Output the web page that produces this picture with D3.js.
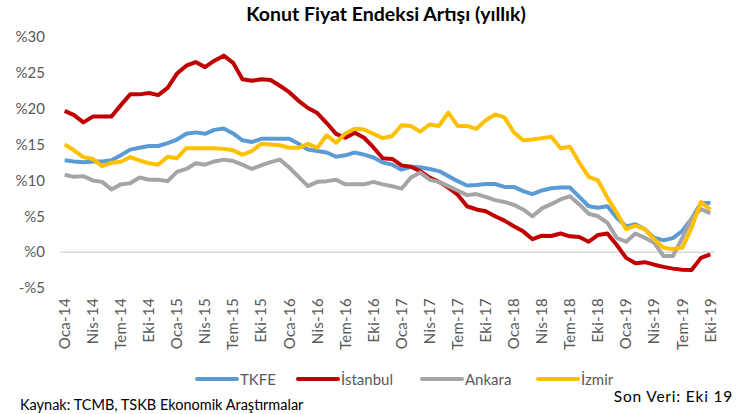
<!DOCTYPE html>
<html>
<head>
<meta charset="utf-8">
<script src="https://cdn.jsdelivr.net/npm/d3@7"></script>
<style>
  body { margin: 0; background: #fff; }
  svg { font-family: Lato, "Open Sans", sans-serif; }
  .tick text { fill: #595959; }
</style>
</head>
<body>
<svg id="chart" width="745" height="414"></svg>
<script>
// Turkish month abbreviations and years of the series (Oca-14 .. Eki-19)
const monthNames = ['Oca', 'Şub', 'Mar', 'Nis', 'May', 'Haz', 'Tem', 'Ağu', 'Eyl', 'Eki', 'Kas', 'Ara'];
const years = [14, 15, 16, 17, 18, 19];
const lastMonth = 'Eki-19';

// Annual house price index growth, %
const tkfe = [12.8, 12.65, 12.55, 12.65, 12.65, 12.8, 13.5, 14.3, 14.55, 14.8, 14.8, 15.2,
  15.7, 16.5, 16.7, 16.5, 17.05, 17.25, 16.55, 15.6, 15.35, 15.8, 15.8, 15.8,
  15.8, 15.1, 14.3, 14.1, 13.9, 13.3, 13.5, 13.9, 13.6, 13.2, 12.5, 12.2,
  11.5, 11.9, 11.85, 11.6, 11.3, 10.6, 9.9, 9.3, 9.35, 9.5, 9.5, 9.1,
  9.1, 8.5, 8.1, 8.6, 8.9, 9.0, 9.0, 7.7, 6.4, 6.2, 6.4, 4.8,
  3.6, 3.9, 3.2, 2.0, 1.65, 1.95, 2.95, 4.65, 6.85, 6.85];
const istanbul = [19.7, 19.1, 18.1, 18.9, 18.9, 18.9, 20.5, 22.0, 22.0, 22.2, 21.9, 22.9,
  24.9, 26.0, 26.5, 25.8, 26.7, 27.4, 26.4, 24.1, 23.9, 24.1, 24.0, 23.2,
  22.3, 21.1, 20.1, 19.4, 18.0, 16.5, 15.95, 16.65, 15.95, 14.6, 13.1, 13.0,
  12.1, 11.9, 11.3, 10.4, 9.8, 9.0, 8.0, 6.4, 5.95, 5.7, 5.0, 4.4,
  3.6, 2.9, 1.8, 2.3, 2.25, 2.6, 2.2, 2.1, 1.45, 2.4, 2.6, 1.0,
  -0.8, -1.55, -1.4, -1.75, -2.05, -2.3, -2.45, -2.5, -0.8, -0.3];
const ankara = [10.8, 10.5, 10.6, 10.0, 9.8, 8.75, 9.45, 9.6, 10.4, 10.1, 10.1, 9.9,
  11.2, 11.6, 12.4, 12.2, 12.65, 12.9, 12.7, 12.2, 11.6, 12.1, 12.55, 12.9,
  11.8, 10.5, 9.2, 9.8, 9.9, 10.1, 9.45, 9.45, 9.45, 9.8, 9.45, 9.2,
  8.85, 10.4, 11.1, 10.1, 9.8, 9.2, 8.6, 7.95, 8.1, 7.7, 7.25, 7.0,
  6.6, 5.95, 5.0, 6.1, 6.7, 7.35, 7.8, 6.65, 5.35, 5.0, 4.1, 2.0,
  1.45, 2.6, 2.0, 1.3, -0.55, -0.55, 2.0, 4.7, 6.0, 5.45];
const izmir = [15.0, 14.2, 13.25, 13.0, 12.0, 12.45, 12.6, 13.25, 12.8, 12.4, 12.2, 13.3,
  13.1, 14.5, 14.5, 14.5, 14.5, 14.4, 14.2, 13.6, 14.1, 15.1, 15.0, 14.9,
  14.55, 14.55, 15.1, 14.55, 16.3, 15.25, 16.55, 17.2, 17.1, 16.5, 15.9, 16.2,
  17.7, 17.6, 16.8, 17.8, 17.6, 19.45, 17.6, 17.6, 17.2, 18.4, 19.2, 18.8,
  16.7, 15.6, 15.7, 15.9, 16.1, 14.5, 14.7, 12.5, 10.5, 10.0, 7.6, 5.5,
  3.2, 3.7, 3.2, 1.8, 0.6, 0.45, 0.6, 3.4, 7.0, 5.95];

const yTicks = [-5, 0, 5, 10, 15, 20, 25, 30];

const seriesNames = ['TKFE', 'İstanbul', 'Ankara', 'İzmir'];
const seriesColors = ['#5B9BD5', '#C00000', '#A5A5A5', '#FFC000'];
const seriesValues = [tkfe, istanbul, ankara, izmir];

// Build month category labels
const months = [];
years.forEach(y => monthNames.forEach(m => months.push(`${m}-${y}`)));
const categories = months.slice(0, months.indexOf(lastMonth) + 1);

const svg = d3.select('#chart');
const margin = {left: 60, right: 30, top: 37, bottom: 126};
const width = 745 - margin.left - margin.right;
const height = 414 - margin.top - margin.bottom;

const chart = svg.append('g')
  .attr('transform', `translate(${margin.left},${margin.top})`);

const xScale = d3.scaleBand()
  .domain(categories)
  .range([0, width]);

const yScale = d3.scaleLinear()
  .domain([-5, 30])
  .range([height, 0]);

const xPos = d => xScale(d) + xScale.bandwidth() / 2;

// Title
svg.append('text')
  .attr('x', 386)
  .attr('y', 21)
  .attr('text-anchor', 'middle')
  .attr('font-size', 19.5)
  .attr('font-weight', 'bold')
  .attr('fill', '#000')
  .text('Konut Fiyat Endeksi Artışı (yıllık)');

// Y axis labels
const yAxis = d3.axisLeft(yScale)
  .tickValues(yTicks)
  .tickSize(0)
  .tickPadding(15)
  .tickFormat(d => d < 0 ? `-%${-d}` : `%${d}`);

chart.append('g')
  .attr('class', 'axis y-axis')
  .call(yAxis)
  .call(g => g.select('.domain').remove())
  .selectAll('text')
  .attr('font-size', 15)
  .attr('font-family', 'Lato, sans-serif');

// zero line
chart.append('line')
  .attr('x1', 0)
  .attr('x2', width)
  .attr('y1', yScale(0))
  .attr('y2', yScale(0))
  .attr('stroke', '#D9D9D9')
  .attr('stroke-width', 1.5);

// X axis labels, every third month
const xAxis = d3.axisBottom(xScale)
  .tickValues(categories.filter((d, i) => i % 3 === 0))
  .tickSize(0);

chart.append('g')
  .attr('class', 'axis x-axis')
  .attr('transform', `translate(0,${height})`)
  .call(xAxis)
  .call(g => g.select('.domain').remove())
  .selectAll('text')
  .attr('font-size', 15)
  .attr('font-family', 'Lato, sans-serif')
  .attr('letter-spacing', 0.3)
  .attr('text-anchor', 'end')
  .attr('dy', '0.35em')
  .attr('transform', 'translate(0,10) rotate(-90)')
  .attr('x', 0)
  .attr('y', 0);

// Lines
const line = d3.line()
  .x((d, i) => xPos(categories[i]))
  .y(d => yScale(d));

chart.selectAll('.series')
  .data(seriesValues)
  .join('path')
  .attr('class', 'series')
  .attr('fill', 'none')
  .attr('stroke', (d, i) => seriesColors[i])
  .attr('stroke-width', 4)
  .attr('stroke-linejoin', 'round')
  .attr('d', line);

// Legend
const legendX = [197, 298, 422, 538];
const legend = svg.append('g').attr('class', 'legend');
seriesNames.forEach((name, i) => {
  const g = legend.append('g').attr('transform', `translate(${legendX[i]},379)`);
  g.append('line')
    .attr('x1', 0).attr('x2', 40)
    .attr('stroke', seriesColors[i])
    .attr('stroke-width', 4)
    .attr('stroke-linecap', 'round');
  g.append('text')
    .attr('x', 43)
    .attr('y', 5.5)
    .attr('font-size', 15)
    .attr('fill', '#595959')
    .text(name);
});

// Footer notes
svg.append('text')
  .attr('x', 733)
  .attr('y', 402)
  .attr('text-anchor', 'end')
  .attr('font-size', 15.5)
  .attr('letter-spacing', 0.8)
  .attr('fill', '#000')
  .text('Son Veri: Eki 19');

svg.append('text')
  .attr('x', 20)
  .attr('y', 410)
  .attr('font-size', 14.5)
  .attr('fill', '#000')
  .text('Kaynak: TCMB, TSKB Ekonomik Araştırmalar');
</script>
</body>
</html>
